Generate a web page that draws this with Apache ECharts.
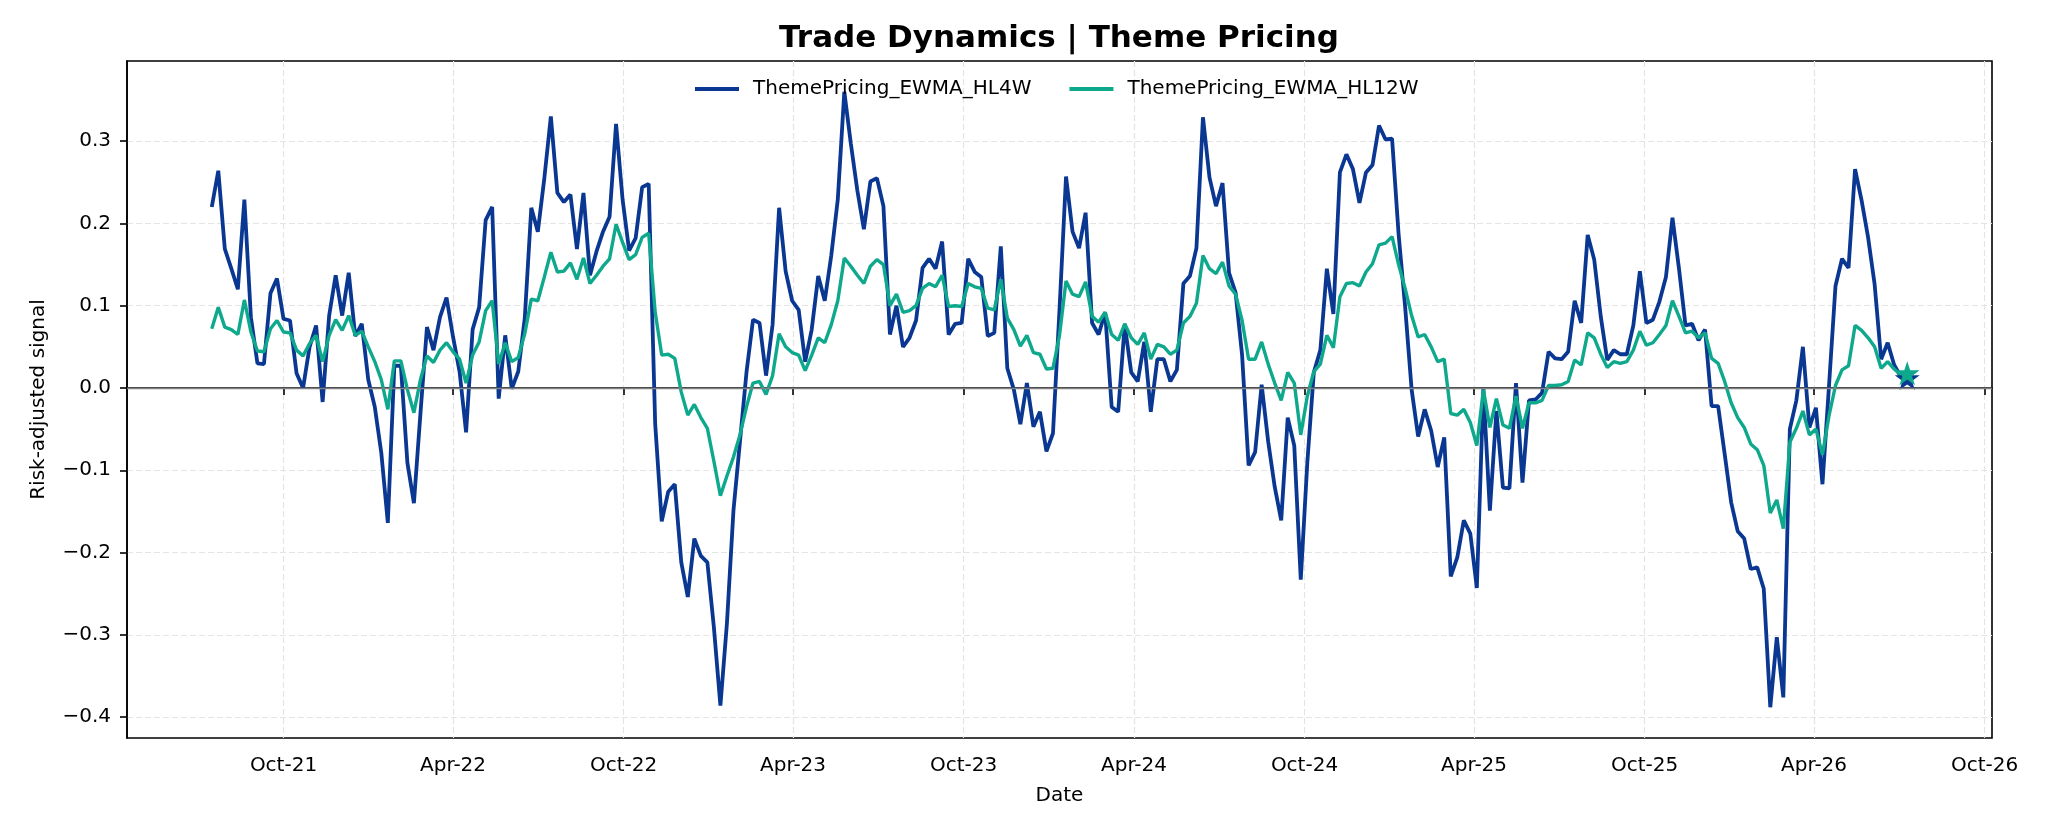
<!DOCTYPE html>
<html>
<head>
<meta charset="utf-8">
<title>Trade Dynamics | Theme Pricing</title>
<script src="https://cdn.jsdelivr.net/npm/echarts@6/dist/echarts.min.js"></script>
<style>
	html, body { margin: 0; padding: 0; background: #fff; }
	#chart { width: 2048px; height: 832px; }
</style>
</head>
<body>
<div id="chart"></div>
<script>
// weekly observations, first one on this date
const startDate = '2021-07-16';

const hl4w = [
	0.220, 0.264, 0.169, 0.145, 0.120, 0.229, 0.086, 0.030, 0.029, 0.115,
	0.133, 0.084, 0.082, 0.018, 0.000, 0.050, 0.076, -0.017, 0.088, 0.137,
	0.088, 0.140, 0.063, 0.078, 0.010, -0.023, -0.079, -0.164, 0.027, 0.027,
	-0.091, -0.140, -0.031, 0.074, 0.046, 0.086, 0.110, 0.062, 0.020, -0.054,
	0.071, 0.098, 0.204, 0.220, -0.013, 0.064, -0.001, 0.020, 0.085, 0.219,
	0.190, 0.255, 0.330, 0.237, 0.226, 0.235, 0.169, 0.237, 0.137, 0.166,
	0.190, 0.208, 0.321, 0.229, 0.167, 0.182, 0.244, 0.248, -0.044, -0.162,
	-0.126, -0.117, -0.212, -0.254, -0.183, -0.204, -0.212, -0.291, -0.386, -0.286,
	-0.149, -0.065, 0.019, 0.083, 0.079, 0.015, 0.077, 0.219, 0.142, 0.106,
	0.095, 0.032, 0.071, 0.136, 0.106, 0.161, 0.229, 0.360, 0.297, 0.240,
	0.193, 0.251, 0.255, 0.221, 0.065, 0.100, 0.050, 0.061, 0.082, 0.146,
	0.157, 0.145, 0.178, 0.065, 0.078, 0.079, 0.157, 0.141, 0.135, 0.063,
	0.067, 0.172, 0.024, -0.002, -0.044, 0.006, -0.047, -0.029, -0.077, -0.055,
	0.095, 0.257, 0.190, 0.170, 0.213, 0.079, 0.065, 0.092, -0.023, -0.029,
	0.077, 0.019, 0.008, 0.056, -0.029, 0.035, 0.035, 0.008, 0.022, 0.127,
	0.136, 0.170, 0.329, 0.256, 0.221, 0.249, 0.140, 0.116, 0.040, -0.094,
	-0.078, 0.004, -0.065, -0.120, -0.161, -0.036, -0.070, -0.233, -0.091, 0.019,
	0.046, 0.145, 0.090, 0.262, 0.284, 0.266, 0.225, 0.262, 0.271, 0.319,
	0.302, 0.303, 0.187, 0.099, -0.002, -0.059, -0.026, -0.052, -0.096, -0.060,
	-0.229, -0.206, -0.161, -0.177, -0.243, -0.001, -0.149, -0.028, -0.121, -0.122,
	0.006, -0.115, -0.015, -0.014, -0.006, 0.044, 0.036, 0.035, 0.044, 0.106,
	0.079, 0.186, 0.156, 0.087, 0.034, 0.046, 0.041, 0.041, 0.076, 0.142,
	0.079, 0.083, 0.105, 0.135, 0.207, 0.145, 0.076, 0.078, 0.058, 0.071,
	-0.022, -0.022, -0.080, -0.139, -0.174, -0.183, -0.220, -0.218, -0.244, -0.388,
	-0.303, -0.376, -0.050, -0.015, 0.050, -0.048, -0.024, -0.117, 0.002, 0.124,
	0.157, 0.146, 0.266, 0.228, 0.183, 0.126, 0.035, 0.055, 0.028, 0.014,
	0.012
];

const hl12w = [
	0.072, 0.098, 0.074, 0.071, 0.065, 0.107, 0.068, 0.045, 0.044, 0.072,
	0.082, 0.068, 0.067, 0.046, 0.039, 0.054, 0.064, 0.032, 0.064, 0.083,
	0.070, 0.088, 0.064, 0.069, 0.050, 0.032, 0.010, -0.026, 0.033, 0.033,
	-0.002, -0.030, 0.010, 0.039, 0.031, 0.046, 0.055, 0.044, 0.035, 0.006,
	0.040, 0.056, 0.094, 0.106, 0.029, 0.055, 0.032, 0.037, 0.066, 0.108,
	0.106, 0.135, 0.165, 0.141, 0.142, 0.152, 0.132, 0.158, 0.127, 0.137,
	0.148, 0.157, 0.199, 0.177, 0.156, 0.162, 0.183, 0.188, 0.092, 0.040,
	0.041, 0.036, -0.005, -0.033, -0.020, -0.036, -0.049, -0.089, -0.131, -0.107,
	-0.084, -0.057, -0.023, 0.006, 0.008, -0.008, 0.015, 0.066, 0.050, 0.043,
	0.040, 0.021, 0.040, 0.061, 0.055, 0.077, 0.106, 0.158, 0.148, 0.137,
	0.127, 0.148, 0.156, 0.150, 0.100, 0.114, 0.092, 0.094, 0.100, 0.121,
	0.127, 0.123, 0.137, 0.099, 0.100, 0.099, 0.127, 0.123, 0.121, 0.097,
	0.095, 0.132, 0.085, 0.071, 0.051, 0.064, 0.043, 0.041, 0.023, 0.024,
	0.064, 0.130, 0.114, 0.111, 0.129, 0.087, 0.080, 0.092, 0.065, 0.058,
	0.078, 0.061, 0.053, 0.067, 0.035, 0.053, 0.050, 0.041, 0.046, 0.079,
	0.087, 0.103, 0.161, 0.145, 0.139, 0.153, 0.124, 0.114, 0.082, 0.035,
	0.035, 0.056, 0.029, 0.006, -0.015, 0.019, 0.006, -0.057, -0.010, 0.020,
	0.029, 0.064, 0.049, 0.111, 0.127, 0.128, 0.124, 0.141, 0.151, 0.174,
	0.176, 0.184, 0.150, 0.121, 0.088, 0.062, 0.065, 0.050, 0.032, 0.035,
	-0.031, -0.033, -0.026, -0.042, -0.070, -0.002, -0.048, -0.013, -0.045, -0.049,
	-0.010, -0.049, -0.018, -0.018, -0.015, 0.003, 0.003, 0.004, 0.008, 0.034,
	0.028, 0.067, 0.061, 0.041, 0.025, 0.032, 0.030, 0.032, 0.046, 0.069,
	0.052, 0.055, 0.065, 0.076, 0.106, 0.087, 0.067, 0.069, 0.061, 0.067,
	0.036, 0.030, 0.008, -0.018, -0.036, -0.048, -0.068, -0.075, -0.094, -0.152,
	-0.136, -0.171, -0.066, -0.049, -0.028, -0.057, -0.050, -0.081, -0.034, 0.003,
	0.022, 0.027, 0.076, 0.070, 0.061, 0.050, 0.024, 0.032, 0.023, 0.016,
	0.018
];

const xTickDates = [
	'2021-10-01', '2022-04-01', '2022-10-01', '2023-04-01', '2023-10-01', '2024-04-01',
	'2024-10-01', '2025-04-01', '2025-10-01', '2026-04-01', '2026-10-01'
];
const xTickLabels = [
	'Oct-21', 'Apr-22', 'Oct-22', 'Apr-23', 'Oct-23', 'Apr-24',
	'Oct-24', 'Apr-25', 'Oct-25', 'Apr-26', 'Oct-26'
];
const yTicks = [-0.4, -0.3, -0.2, -0.1, 0.0, 0.1, 0.2, 0.3];

const seriesNames = ['ThemePricing_EWMA_HL4W', 'ThemePricing_EWMA_HL12W'];
const seriesColors = ['#0a3791', '#0ea88c'];

const FONT = 'DejaVu Sans';
const DAY = 86400000;
// 5-point star, marks the latest observation
const STAR = 'path://M100,0 L122.45,69.1 L195.11,69.1 L136.33,111.8 L158.78,180.9 L100,138.2 L41.22,180.9 L63.67,111.8 L4.89,69.1 L77.55,69.1 Z';

// dates as timestamps on a plain value axis (custom ticks at Apr/Oct)
const t0 = Date.parse(startDate + 'T00:00:00Z');
const dates = hl4w.map((_, i) => t0 + i * 7 * DAY);
const xTickTimes = xTickDates.map(d => Date.parse(d + 'T00:00:00Z'));

// same 5% margins as the original plot
const xSpan = dates[dates.length - 1] - dates[0];
const xMin = dates[0] - 0.05 * xSpan;
const xMax = dates[dates.length - 1] + 0.05 * xSpan;
const allVals = hl4w.concat(hl12w);
const lo = Math.min(...allVals);
const hi = Math.max(...allVals);
const yMin = lo - 0.05 * (hi - lo);
const yMax = hi + 0.05 * (hi - lo);

function toPoints(vals) {
	const last = vals.length - 1;
	return vals.map((v, i) => i === last
		? { value: [dates[i], v], symbol: STAR, symbolSize: [25, 24] }
		: [dates[i], v]);
}

const chart = echarts.init(document.getElementById('chart'));

const gridLine = { show: true, lineStyle: { color: '#e4e4e4', width: 1.2, type: [6, 3] } };

const option = {
	animation: false,
	backgroundColor: '#fff',
	title: {
		text: 'Trade Dynamics | Theme Pricing',
		left: 1059,
		textAlign: 'center',
		top: 23,
		padding: 0,
		textStyle: { fontFamily: FONT, fontSize: 31, fontWeight: 'bold', color: '#000' }
	},
	legend: {
		data: seriesNames,
		left: 695,
		top: 79,
		padding: 0,
		icon: 'rect',
		itemWidth: 44,
		itemHeight: 4,
		itemGap: 38,
		selectedMode: false,
		textStyle: { fontFamily: FONT, fontSize: 20, color: '#000', padding: [0, 0, 0, 9] }
	},
	grid: {
		left: 127,
		right: 56,
		top: 61,
		bottom: 94,
		show: true,
		borderColor: '#000',
		borderWidth: 1.6,
		outerBoundsMode: 'none'
	},
	xAxis: {
		type: 'value',
		min: xMin,
		max: xMax,
		name: 'Date',
		nameLocation: 'middle',
		nameGap: 48,
		nameTextStyle: { fontFamily: FONT, fontSize: 20, color: '#000' },
		axisLine: { show: true, lineStyle: { color: '#000', width: 1.6 } },
		axisTick: { show: true, length: 7, customValues: xTickTimes, lineStyle: { color: '#000', width: 1.6 } },
		axisLabel: {
			customValues: xTickTimes,
			margin: 18,
			fontFamily: FONT,
			fontSize: 20,
			color: '#000',
			formatter: v => {
				const k = xTickTimes.indexOf(v);
				return k >= 0 ? xTickLabels[k] : '';
			}
		},
		splitLine: gridLine
	},
	yAxis: {
		type: 'value',
		min: yMin,
		max: yMax,
		name: 'Risk-adjusted signal',
		nameLocation: 'middle',
		nameGap: 78,
		nameTextStyle: { fontFamily: FONT, fontSize: 20, color: '#000' },
		axisLine: { show: true, lineStyle: { color: '#000', width: 1.6 } },
		axisTick: { show: true, length: 7, customValues: yTicks, lineStyle: { color: '#000', width: 1.6 } },
		axisLabel: {
			customValues: yTicks,
			margin: 16,
			fontFamily: FONT,
			fontSize: 20,
			color: '#000',
			formatter: v => (v < -1e-9 ? '\u2212' : '') + Math.abs(v).toFixed(1)
		},
		splitLine: gridLine
	},
	series: [
		{
			name: seriesNames[0],
			type: 'line',
			data: toPoints(hl4w),
			symbol: 'none',
			showSymbol: true,
			lineStyle: { color: seriesColors[0], width: 3.8 },
			itemStyle: { color: seriesColors[0] },
			emphasis: { disabled: true },
			markLine: {
				silent: true,
				symbol: ['none', 'none'],
				label: { show: false },
				lineStyle: { color: '#808080', width: 1.4, type: 'solid' },
				data: [{ yAxis: 0 }]
			}
		},
		{
			name: seriesNames[1],
			type: 'line',
			data: toPoints(hl12w),
			symbol: 'none',
			showSymbol: true,
			lineStyle: { color: seriesColors[1], width: 3.4 },
			itemStyle: { color: seriesColors[1] },
			emphasis: { disabled: true }
		}
	]
};

chart.setOption(option);

window.addEventListener('resize', () => {
	chart.resize();
});
</script>
</body>
</html>
